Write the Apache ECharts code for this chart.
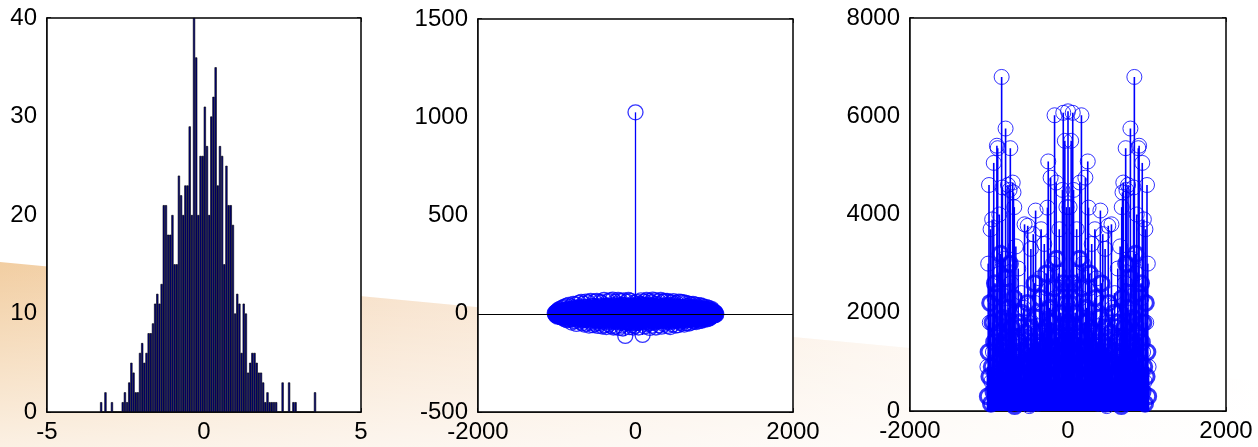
<!DOCTYPE html>
<html>
<head>
<meta charset="utf-8">
<script src="https://cdn.jsdelivr.net/npm/echarts@6/dist/echarts.min.js"></script>
<style>
  html, body { margin: 0; padding: 0; background: #fff; }
  #chart { width: 1258px; height: 447px; }
</style>
</head>
<body>
<div id="chart"></div>
<script>
// left panel: histogram, 100 equal bins between the first and last edge
const histRange = [-3.31, 3.57]
const histCounts = [
  1, 0, 2, 0, 0, 1, 0, 0, 0, 0,
  1, 2, 1, 3, 5, 4, 2, 2, 6, 7,
  5, 6, 8, 8, 9, 11, 12, 11, 13, 21,
  21, 18, 18, 20, 15, 15, 24, 22, 20, 23,
  23, 29, 20, 40, 36, 20, 26, 26, 31, 27,
  20, 30, 32, 35, 23, 27, 26, 15, 25, 21,
  21, 19, 10, 12, 11, 6, 11, 10, 4, 5,
  6, 6, 5, 4, 4, 3, 1, 2, 1, 1,
  1, 1, 0, 0, 3, 0, 0, 3, 0, 1,
  1, 0, 0, 0, 0, 0, 0, 0, 0, 2,
]

// middle + right panels: the real plots are too dense to read point by point,
// so these are estimated samples on two interleaved lag sets
// (set A holds the visible outliers, set B the dense core)
const lags = [
  -1020, -1010, -1000, -990, -980, -970, -960, -950, -940, -930,
  -920, -910, -900, -890, -880, -870, -860, -850, -840, -830,
  -820, -810, -800, -790, -780, -770, -760, -750, -740, -730,
  -720, -710, -700, -690, -680, -670, -660, -650, -640, -630,
  -620, -610, -600, -590, -580, -570, -560, -550, -540, -530,
  -520, -510, -500, -490, -480, -470, -460, -450, -440, -430,
  -420, -410, -400, -390, -380, -370, -360, -350, -340, -330,
  -320, -310, -300, -290, -280, -270, -260, -250, -240, -230,
  -220, -210, -200, -190, -180, -170, -160, -150, -140, -130,
  -120, -110, -100, -90, -80, -70, -60, -50, -40, -30,
  -20, -10, 0, 10, 20, 30, 40, 50, 60, 70,
  80, 90, 100, 110, 120, 130, 140, 150, 160, 170,
  180, 190, 200, 210, 220, 230, 240, 250, 260, 270,
  280, 290, 300, 310, 320, 330, 340, 350, 360, 370,
  380, 390, 400, 410, 420, 430, 440, 450, 460, 470,
  480, 490, 500, 510, 520, 530, 540, 550, 560, 570,
  580, 590, 600, 610, 620, 630, 640, 650, 660, 670,
  680, 690, 700, 710, 720, 730, 740, 750, 760, 770,
  780, 790, 800, 810, 820, 830, 840, 850, 860, 870,
  880, 890, 900, 910, 920, 930, 940, 950, 960, 970,
  980, 990, 1000, 1010, 1020,
]
const lagsB = [
  -1015, -1005, -995, -985, -975, -965, -955, -945, -935, -925,
  -915, -905, -895, -885, -875, -865, -855, -845, -835, -825,
  -815, -805, -795, -785, -775, -765, -755, -745, -735, -725,
  -715, -705, -695, -685, -675, -665, -655, -645, -635, -625,
  -615, -605, -595, -585, -575, -565, -555, -545, -535, -525,
  -515, -505, -495, -485, -475, -465, -455, -445, -435, -425,
  -415, -405, -395, -385, -375, -365, -355, -345, -335, -325,
  -315, -305, -295, -285, -275, -265, -255, -245, -235, -225,
  -215, -205, -195, -185, -175, -165, -155, -145, -135, -125,
  -115, -105, -95, -85, -75, -65, -55, -45, -35, -25,
  -15, -5, 5, 15, 25, 35, 45, 55, 65, 75,
  85, 95, 105, 115, 125, 135, 145, 155, 165, 175,
  185, 195, 205, 215, 225, 235, 245, 255, 265, 275,
  285, 295, 305, 315, 325, 335, 345, 355, 365, 375,
  385, 395, 405, 415, 425, 435, 445, 455, 465, 475,
  485, 495, 505, 515, 525, 535, 545, 555, 565, 575,
  585, 595, 605, 615, 625, 635, 645, 655, 665, 675,
  685, 695, 705, 715, 725, 735, 745, 755, 765, 775,
  785, 795, 805, 815, 825, 835, 845, 855, 865, 875,
  885, 895, 905, 915, 925, 935, 945, 955, 965, 975,
  985, 995, 1005, 1015,
]

const corrValues = [
  3, -8, 12, -15, 20, -6, 25, -18, 9, 30,
  -22, 35, -28, 14, 40, -33, 8, 45, -30, -12,
  38, -45, 22, 50, -38, 5, 48, -52, 30, -20,
  55, -40, 18, 60, -48, -10, 52, -55, 35, 62,
  -50, 25, 58, -60, -15, 65, -45, 40, -58, 20,
  62, -52, 10, 66, -62, 30, -48, 60, -35, 55,
  -65, 15, 70, -58, 42, -68, 25, 64, -55, -20,
  68, -62, 35, 72, -70, 12, 60, -66, 48, -40,
  70, -72, 20, 65, -60, 45, -75, 68, -50, -113,
  30, 62, -45, 70, -68, 25, 66, -58, 40, -70,
  55, -62, 1025, -48, 60, 35, -70, 52, -40, 68,
  -30, -108, 45, 62, -65, 28, 70, -55, -20, 66,
  -72, 40, 58, -60, 72, -45, 15, 68, -70, 50,
  -35, 64, -58, 30, 70, -66, 22, 62, -52, 66,
  -40, 10, 65, -62, 45, 60, -68, 18, 58, -55,
  64, -30, 48, -60, 55, 12, -58, 62, -45, 35,
  60, -50, 25, 58, -55, -18, 55, -48, 40, 52,
  -50, 20, 48, -45, 30, 50, -40, 12, 46, -42,
  35, -30, 44, -38, 20, 42, -35, 8, 38, -30,
  25, -22, 34, -28, 15, 30, -22, 20, -15, 24,
  -10, 12, -8, 6, -4,
]
const corrValuesB = [
  2, -5, 7, -4, 10, -9, 6, -12, 14, -8,
  11, -15, 5, 18, -10, -20, 16, -6, 22, -14,
  9, -25, 20, -12, 28, 4, -18, 24, -26, 12,
  -8, 30, -22, 15, -30, 25, 6, -28, 20, -15,
  32, -10, -25, 18, 28, -32, 5, 22, -20, 35,
  -28, 12, 30, -35, 8, -15, 26, -30, 38, -5,
  20, -38, 15, 33, -22, -8, 36, -25, 10, -40,
  28, 5, -32, 40, -18, 22, -36, 14, 34, -28,
  -12, 38, -42, 25, 8, -30, 42, -20, -35, 30,
  15, -40, 36, -10, 28, -45, 40, 22, -30, 10,
  -38, 32, -25, 40, -15, -42, 30, 18, -36, 25,
  45, -28, 8, -40, 35, -20, 38, 12, -44, 20,
  -30, 42, -12, 36, -35, 25, 5, -38, 30, -22,
  40, -18, -32, 28, 10, -36, 34, -25, 15, 38,
  -30, 8, 35, -28, 22, -40, 18, 30, -12, -34,
  26, -20, 36, -8, -30, 32, 14, -26, 28, -35,
  10, 30, -24, 22, -32, 18, -10, 34, -20, 25,
  -28, 12, 30, -22, -15, 26, -30, 20, 8, -25,
  24, -18, 10, 28, -22, 15, -26, 20, -8, 18,
  -15, 22, -12, 6, 18, -20, 10, -10, 14, -6,
  8, -5, 4, -2,
]

const specValues = [
  900, 3000, 4600, 1800, 3700, 600, 3900, 1200, 5050, 2300,
  400, 1500, 5400, 5350, 1000, 4000, 2800, 300, 6800, 4550,
  1400, 3100, 700, 5750, 2000, 1100, 4600, 200, 4500, 5350,
  2600, 800, 4650, 4450, 4150, 500, 3350, 1300, 200, 2900,
  700, 1700, 1000, 2400, 400, 1200, 2100, 3800, 300, 1500,
  900, 3770, 1800, 100, 1100, 3300, 600, 1400, 3600, 250,
  2200, 4080, 800, 1600, 150, 1300, 2700, 500, 3700, 900,
  2000, 1100, 3400, 300, 1700, 2500, 4140, 5080, 700, 1900,
  4750, 1200, 400, 3000, 1000, 6020, 2300, 4650, 600, 1500,
  2800, 3700, 350, 2000, 1200, 4500, 6070, 900, 5500, 1600,
  4150, 2600, 6100, 2600, 4150, 1600, 5500, 900, 6070, 4500,
  1200, 2000, 350, 3700, 2800, 1500, 600, 4650, 2300, 6020,
  1000, 3000, 400, 1200, 4750, 1900, 700, 5080, 4140, 2500,
  1700, 300, 3400, 1100, 2000, 900, 3700, 500, 2700, 1300,
  150, 1600, 800, 4080, 2200, 250, 3600, 1400, 600, 3300,
  1100, 100, 1800, 3770, 900, 1500, 300, 3800, 2100, 1200,
  400, 2400, 1000, 1700, 700, 2900, 200, 1300, 3350, 500,
  4150, 4450, 4650, 800, 2600, 5350, 4500, 200, 4600, 1100,
  2000, 5750, 700, 3100, 1400, 4550, 6800, 300, 2800, 4000,
  1000, 5350, 5400, 1500, 400, 2300, 5050, 1200, 3900, 600,
  3700, 1800, 4600, 3000, 900,
]
const specValuesB = [
  300, 1200, 700, 2200, 150, 900, 1800, 400, 1400, 2600,
  600, 1000, 2400, 250, 1600, 800, 3200, 1100, 500, 1900,
  1300, 200, 2700, 900, 1500, 600, 2100, 1000, 3000, 350,
  1700, 700, 1200, 2300, 100, 900, 1500, 500, 1100, 1800,
  300, 1400, 800, 2000, 600, 1000, 250, 1600, 700, 1200,
  2200, 400, 900, 1300, 150, 1700, 800, 500, 1100, 2600,
  600, 1000, 1900, 300, 1400, 750, 1200, 2300, 450, 1000,
  1600, 200, 1300, 800, 2800, 500, 1100, 1500, 2100, 350,
  900, 1800, 600, 1300, 2500, 400, 1000, 3100, 700, 1500,
  1100, 2000, 300, 1700, 800, 2600, 1200, 500, 1400, 2200,
  900, 1800, 1800, 900, 2200, 1400, 500, 1200, 2600, 800,
  1700, 300, 2000, 1100, 1500, 700, 3100, 1000, 400, 2500,
  1300, 600, 1800, 900, 350, 2100, 1500, 1100, 500, 2800,
  800, 1300, 200, 1600, 1000, 450, 2300, 1200, 750, 1400,
  300, 1900, 1000, 600, 2600, 1100, 500, 800, 1700, 150,
  1300, 900, 400, 2200, 1200, 700, 1600, 250, 1000, 600,
  2000, 800, 1400, 300, 1800, 1100, 500, 1500, 900, 100,
  2300, 1200, 700, 1700, 350, 3000, 1000, 2100, 600, 1500,
  900, 2700, 200, 1300, 1900, 500, 1100, 3200, 800, 1600,
  250, 2400, 1000, 600, 2600, 1400, 400, 1800, 900, 150,
  2200, 700, 1200, 300,
]

// axis ranges: [min, max, interval]
const xRanges = [[-5, 5, 5], [-2000, 2000, 2000], [-2000, 2000, 2000]]
const yRanges = [[0, 40, 10], [-500, 1500, 500], [0, 8000, 2000]]

const FONT = 'Liberation Sans, Arial, sans-serif'
const BLUE = '#0000ff'

const binW = (histRange[1] - histRange[0]) / histCounts.length
const histData = histCounts.map((c, i) => [histRange[0] + binW * (i + 0.5), c])
const pairs = (xs, ys) => xs.map((x, i) => [x, ys[i]])
const corrA = pairs(lags, corrValues)
const corrB = pairs(lagsB, corrValuesB)
const specA = pairs(lags, specValues)
const specB = pairs(lagsB, specValuesB)

const grids = [
  { left: 47, right: 897, top: 18, bottom: 35 },
  { left: 478, right: 465, top: 19, bottom: 35 },
  { left: 910, right: 32, top: 18, bottom: 36 },
].map(g => ({ ...g, show: true, backgroundColor: '#fff', borderColor: '#000', borderWidth: 1.5, z: 1 }))

const tick = { show: true, inside: true, length: 4, lineStyle: { color: '#000', width: 1.5 } }
const label = { color: '#000', fontFamily: FONT, fontSize: 24, formatter: v => String(v) }

const mkX = (i, pos) => ({
  type: 'value', gridIndex: i, position: pos,
  min: xRanges[i][0], max: xRanges[i][1], interval: xRanges[i][2],
  axisLine: { show: pos === 'bottom', onZero: false, lineStyle: { color: '#000', width: 1.5 } },
  axisTick: tick,
  splitLine: { show: false },
  axisLabel: { ...label, show: pos === 'bottom', margin: 8 },
})
const mkY = (i, pos) => ({
  type: 'value', gridIndex: i, position: pos,
  min: yRanges[i][0], max: yRanges[i][1], interval: yRanges[i][2],
  axisLine: { show: pos === 'left', onZero: false, lineStyle: { color: '#000', width: 1.5 } },
  axisTick: tick,
  splitLine: { show: false },
  axisLabel: { ...label, show: pos === 'left', margin: 10 },
})

const stems = (idx, data, width) => ({
  type: 'bar', xAxisIndex: idx, yAxisIndex: idx, data, barWidth: width,
  itemStyle: { color: BLUE }, z: 2, silent: true, animation: false,
})
const rings = (idx, data, width, extra) => Object.assign({
  type: 'scatter', xAxisIndex: idx, yAxisIndex: idx, data, symbol: 'circle', symbolSize: 15,
  clip: false,
  itemStyle: { color: 'rgba(0,0,0,0)', borderColor: BLUE, borderWidth: width },
  z: 3, silent: true, animation: false,
}, extra || {})

const chart = echarts.init(document.getElementById('chart'), null, { renderer: 'canvas' })
chart.setOption({
  backgroundColor: '#fff',
  animation: false,
  graphic: [
    {
      type: 'polygon', z: -10, silent: true,
      shape: { points: [[0, 262], [1258, 381], [1258, 447], [0, 447]] },
      style: {
        fill: new echarts.graphic.LinearGradient(0, 0, 1, 0, [
          { offset: 0, color: '#f2cea2' },
          { offset: 0.32, color: '#f7e0c8' },
          { offset: 0.68, color: '#fcf2e8' },
          { offset: 1, color: '#ffffff' },
        ]),
      },
    },
    {
      type: 'polygon', z: -9, silent: true,
      shape: { points: [[0, 262], [1258, 381], [1258, 447], [0, 447]] },
      style: {
        fill: new echarts.graphic.LinearGradient(0, 0, 0, 1, [
          { offset: 0, color: 'rgba(255,255,255,0)' },
          { offset: 1, color: 'rgba(255,255,255,0.7)' },
        ]),
      },
    },
  ],
  grid: grids,
  xAxis: [mkX(0, 'bottom'), mkX(1, 'bottom'), mkX(2, 'bottom'), mkX(0, 'top'), mkX(1, 'top'), mkX(2, 'top')],
  yAxis: [mkY(0, 'left'), mkY(1, 'left'), mkY(2, 'left'), mkY(0, 'right'), mkY(1, 'right'), mkY(2, 'right')],
  series: [
    {
      type: 'bar', xAxisIndex: 0, yAxisIndex: 0, data: histData, barWidth: 2.2,
      itemStyle: { color: '#000080', borderColor: '#000', borderWidth: 0.6 },
      silent: true, animation: false,
    },
    stems(1, corrB.concat(corrA), 1.3),
    // the dense core: 2000+ overlapping rings in the original, drawn heavier here
    rings(1, corrB, 3),
    rings(1, corrA, 1.3, {
      markLine: {
        silent: true, symbol: 'none', label: { show: false },
        lineStyle: { color: '#000', width: 1, type: 'solid' },
        data: [{ yAxis: 0 }],
      },
    }),
    stems(2, specB.concat(specA), 1.6),
    rings(2, specB, 3),
    rings(2, specA, 1),
  ],
})
</script>
</body>
</html>
